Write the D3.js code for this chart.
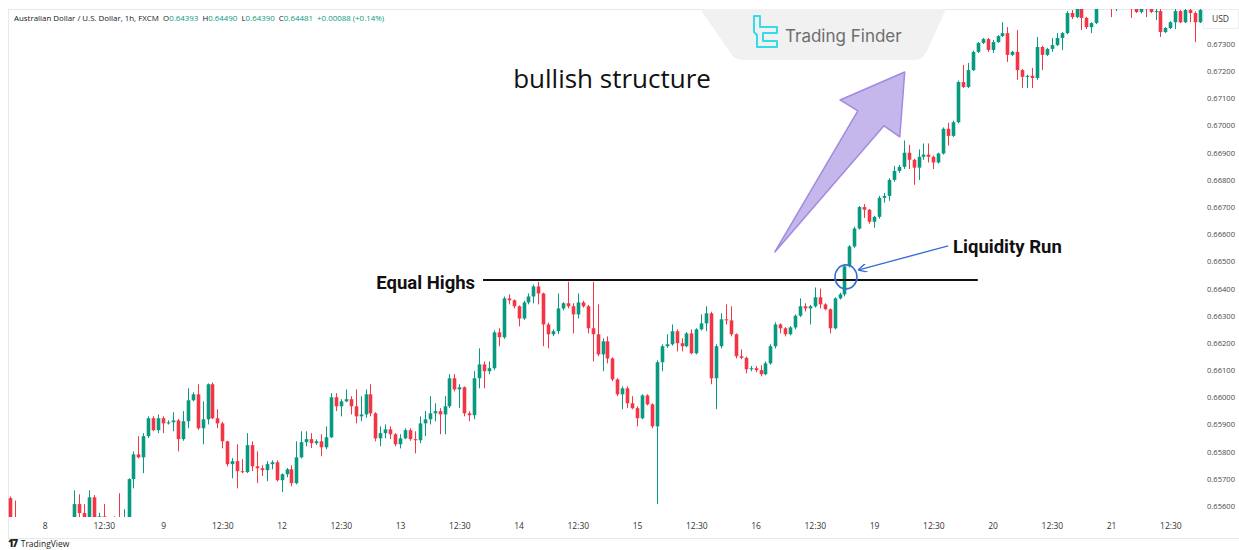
<!DOCTYPE html>
<html>
<head>
<meta charset="utf-8">
<script src="https://cdn.jsdelivr.net/npm/d3@7"></script>
<style>
  body { margin: 0; background: #fff; }
  svg { display: block; }
</style>
</head>
<body>
<div id="wrapper"></div>
<script>
// AUD/USD 1h candles (open = previous close)
const firstOpen = 0.65629;
const closes = [
  0.6555, 0.6554, 0.6552, 0.6549, 0.6547, 0.6545, 0.6548, 0.6546, 0.6544, 0.6547,
  0.6549, 0.6548, 0.6550, 0.65607, 0.65574, 0.6555, 0.65632, 0.6554, 0.65562, 0.65558,
  0.6554, 0.6553, 0.65528, 0.65553, 0.65699, 0.6579, 0.65779, 0.65857, 0.65923, 0.65879,
  0.65923, 0.65904, 0.65908, 0.65915, 0.65846, 0.65912, 0.65989, 0.66011, 0.65886, 0.65919,
  0.66048, 0.65923, 0.65904, 0.65838, 0.65754, 0.65765, 0.65728, 0.65725, 0.65824, 0.65746,
  0.65739, 0.65732, 0.65754, 0.65761, 0.65695, 0.65717, 0.65735, 0.65684, 0.65779, 0.65835,
  0.65846, 0.65831, 0.65838, 0.65816, 0.65853, 0.66000, 0.65967, 0.65985, 0.65993, 0.65967,
  0.6593, 0.65937, 0.66011, 0.65941, 0.65849, 0.65868, 0.65882, 0.65864, 0.65827, 0.65849,
  0.65879, 0.65846, 0.65842, 0.65904, 0.65919, 0.65941, 0.65949, 0.65937, 0.65967, 0.6607,
  0.66029, 0.66037, 0.65941, 0.65934, 0.6607, 0.66121, 0.66096, 0.66107, 0.66239, 0.66221,
  0.66364, 0.66357, 0.66335, 0.6629, 0.66349, 0.66371, 0.66408, 0.66382, 0.66268, 0.66232,
  0.66243, 0.66327, 0.66346, 0.66335, 0.66305, 0.66349, 0.66335, 0.66254, 0.66232, 0.66158,
  0.66206, 0.66143, 0.66066, 0.66011, 0.66033, 0.65978, 0.6596, 0.65923, 0.66007, 0.65974,
  0.65893, 0.66129, 0.66188, 0.66195, 0.66243, 0.66199, 0.66188, 0.66235, 0.66162, 0.6625,
  0.66272, 0.66309, 0.6607, 0.66188, 0.66287, 0.66283, 0.66232, 0.66151, 0.66145, 0.66103,
  0.66107, 0.661, 0.66085, 0.66125, 0.66188, 0.66268, 0.66254, 0.66232, 0.66257, 0.663,
  0.66335, 0.66327, 0.66335, 0.66368, 0.66342, 0.66324, 0.66254, 0.66364, 0.66379, 0.66482,
  0.66555, 0.66621, 0.667, 0.6669, 0.66646, 0.66664, 0.66734, 0.66741, 0.668, 0.66833,
  0.66848, 0.669, 0.66874, 0.66845, 0.66885, 0.66893, 0.66885, 0.66864, 0.66897, 0.66988,
  0.66962, 0.67012, 0.6716, 0.67142, 0.67204, 0.67271, 0.67304, 0.67318, 0.67278, 0.67307,
  0.67329, 0.6734, 0.6726, 0.67271, 0.67204, 0.67179, 0.67183, 0.67175, 0.67289, 0.6726,
  0.67282, 0.67296, 0.67322, 0.6734, 0.67414, 0.67399, 0.67443, 0.67396, 0.67362, 0.67377,
  0.67451, 0.67472, 0.67458, 0.67445, 0.67455, 0.6747, 0.6746, 0.67448, 0.67418, 0.67432,
  0.6743, 0.67418, 0.67421, 0.67344, 0.67359, 0.6738, 0.67421, 0.6738, 0.67425, 0.67414,
  0.6738, 0.67425
];
const highs = [
  0.65635, 0.6562, 0.6555, 0.6553, 0.6551, 0.6549, 0.6550, 0.6550, 0.6548, 0.6549,
  0.6552, 0.6551, 0.6553, 0.65658, 0.65643, 0.65607, 0.65658, 0.6564, 0.65575, 0.65607,
  0.6555, 0.65562, 0.65647, 0.65588, 0.65702, 0.65801, 0.65857, 0.65868, 0.6593, 0.6593,
  0.65937, 0.6593, 0.65915, 0.65945, 0.6592, 0.65949, 0.66033, 0.66018, 0.66048, 0.65985,
  0.66051, 0.66055, 0.65956, 0.6591, 0.6584, 0.65776, 0.65827, 0.65772, 0.65868, 0.65838,
  0.65801, 0.6575, 0.65765, 0.65768, 0.65768, 0.6572, 0.6574, 0.6575, 0.65838, 0.65875,
  0.65875, 0.65868, 0.65845, 0.65864, 0.65893, 0.66015, 0.66015, 0.65993, 0.66029, 0.66004,
  0.66029, 0.66004, 0.66029, 0.66048, 0.65945, 0.65893, 0.659, 0.65893, 0.65868, 0.65864,
  0.65886, 0.65886, 0.65875, 0.6593, 0.65949, 0.66004, 0.65978, 0.6596, 0.66004, 0.66085,
  0.66085, 0.66048, 0.6604, 0.65949, 0.66096, 0.6618, 0.66132, 0.66132, 0.66246, 0.66254,
  0.66371, 0.66379, 0.6636, 0.66338, 0.66355, 0.66382, 0.66415, 0.66425, 0.66385, 0.66275,
  0.6625, 0.66382, 0.6635, 0.66425, 0.66346, 0.66382, 0.66355, 0.6634, 0.66425, 0.66342,
  0.66217, 0.66224, 0.66147, 0.6607, 0.6604, 0.6604, 0.66004, 0.65967, 0.66011, 0.66011,
  0.65978, 0.66136, 0.66195, 0.66232, 0.66268, 0.6625, 0.66217, 0.6624, 0.6625, 0.66254,
  0.66305, 0.66335, 0.66315, 0.66195, 0.66309, 0.66342, 0.66335, 0.66235, 0.66176, 0.6615,
  0.66115, 0.66115, 0.66118, 0.66132, 0.66195, 0.66276, 0.66272, 0.66258, 0.66262, 0.66305,
  0.66364, 0.66346, 0.6634, 0.66404, 0.664, 0.66346, 0.66327, 0.66368, 0.66385, 0.66489,
  0.6656, 0.66628, 0.66704, 0.66711, 0.66693, 0.66668, 0.66741, 0.66752, 0.66806, 0.66851,
  0.66855, 0.66945, 0.66929, 0.66878, 0.66912, 0.66934, 0.66934, 0.6689, 0.669, 0.66993,
  0.6701, 0.67018, 0.67165, 0.67223, 0.6723, 0.67275, 0.67307, 0.67322, 0.67322, 0.67315,
  0.67333, 0.6738, 0.67362, 0.67275, 0.67351, 0.67208, 0.67187, 0.67212, 0.67326, 0.67293,
  0.67286, 0.67322, 0.6734, 0.67344, 0.67421, 0.67425, 0.67454, 0.6745, 0.674, 0.6738,
  0.67462, 0.6749, 0.6748, 0.6747, 0.6747, 0.6749, 0.6748, 0.67468, 0.6745, 0.6745,
  0.67448, 0.67436, 0.6743, 0.6744, 0.67362, 0.67384, 0.67432, 0.67425, 0.6744, 0.6744,
  0.6742, 0.6744
];
const lows = [
  0.6553, 0.6552, 0.6550, 0.6547, 0.6545, 0.6543, 0.6543, 0.6544, 0.6542, 0.6542,
  0.6545, 0.6546, 0.6546, 0.6548, 0.6553, 0.6552, 0.6553, 0.6552, 0.6553, 0.6553,
  0.6551, 0.6550, 0.6551, 0.6552, 0.6553, 0.65665, 0.65775, 0.65721, 0.6585, 0.65875,
  0.65868, 0.65868, 0.659, 0.65875, 0.65801, 0.6584, 0.65886, 0.65985, 0.6588, 0.65827,
  0.659, 0.6592, 0.65886, 0.65812, 0.65746, 0.65702, 0.65665, 0.6572, 0.65721, 0.65728,
  0.65684, 0.6571, 0.65691, 0.65735, 0.6569, 0.65651, 0.65706, 0.65673, 0.6568, 0.65775,
  0.6582, 0.65813, 0.65825, 0.65783, 0.65809, 0.6585, 0.65949, 0.6593, 0.65982, 0.65937,
  0.65904, 0.65912, 0.65925, 0.6593, 0.65838, 0.6582, 0.65849, 0.65846, 0.6582, 0.65812,
  0.65846, 0.6584, 0.65794, 0.65831, 0.65857, 0.659, 0.65912, 0.65864, 0.65864, 0.6596,
  0.66022, 0.6596, 0.6593, 0.65912, 0.65919, 0.66033, 0.66033, 0.66085, 0.661, 0.66188,
  0.66215, 0.66342, 0.66327, 0.66261, 0.66285, 0.66342, 0.66346, 0.66342, 0.66188, 0.6618,
  0.66225, 0.66232, 0.6632, 0.66327, 0.66235, 0.6629, 0.6633, 0.66235, 0.66132, 0.66151,
  0.66096, 0.66125, 0.66059, 0.66004, 0.65956, 0.6596, 0.65956, 0.65893, 0.6592, 0.6597,
  0.65886, 0.65607, 0.66096, 0.66182, 0.6619, 0.66169, 0.66169, 0.66185, 0.66158, 0.66158,
  0.66246, 0.66243, 0.66048, 0.65956, 0.6618, 0.66268, 0.66224, 0.66143, 0.6614, 0.66088,
  0.66096, 0.66092, 0.66077, 0.66081, 0.6612, 0.6618, 0.66235, 0.66224, 0.66228, 0.6625,
  0.66295, 0.66316, 0.66268, 0.6633, 0.66327, 0.6632, 0.66235, 0.6625, 0.6636, 0.66371,
  0.66478, 0.6655, 0.66617, 0.6666, 0.66639, 0.66624, 0.66657, 0.66716, 0.66723, 0.66793,
  0.66826, 0.6684, 0.6684, 0.66782, 0.668, 0.66874, 0.66864, 0.6684, 0.6686, 0.66893,
  0.66926, 0.66958, 0.67008, 0.67138, 0.67138, 0.672, 0.67267, 0.673, 0.67271, 0.67267,
  0.67304, 0.67326, 0.67234, 0.67256, 0.67168, 0.67138, 0.67138, 0.67138, 0.67168, 0.67204,
  0.67256, 0.67271, 0.67293, 0.67278, 0.67336, 0.67392, 0.67395, 0.67351, 0.67355, 0.6734,
  0.67373, 0.6744, 0.67432, 0.67399, 0.67421, 0.6744, 0.67435, 0.67396, 0.67414, 0.67412,
  0.67399, 0.67414, 0.67388, 0.67326, 0.6734, 0.67355, 0.67355, 0.67377, 0.67377, 0.6738,
  0.67307, 0.67377
];

// time axis: candle index of each label
const tickIdx = [7, 19, 31, 43, 55, 67, 79, 91, 103, 115, 127, 139, 151, 163, 175, 187, 199, 211, 223, 235];
const tickLabels = ["8", "12:30", "9", "12:30", "12", "12:30", "13", "12:30", "14", "12:30",
                    "15", "12:30", "16", "12:30", "19", "12:30", "20", "12:30", "21", "12:30"];
const priceTicks = [0.656, 0.657, 0.658, 0.659, 0.660, 0.661, 0.662, 0.663, 0.664,
                    0.665, 0.666, 0.667, 0.668, 0.669, 0.670, 0.671, 0.672, 0.673];

// annotations, in (candle index, price)
const equalHighs = { from: 95.8, to: 196.0, price: 0.66432 };
const bullArrow = [[154.9, 0.66535], [171.7, 0.67054], [168.1, 0.67094], [181.2, 0.67197], [180.2, 0.66958], [177.0, 0.66999]];
const runCircle = { i: 169.3, price: 0.66443 };
const runArrow = { from: [190.0, 0.66557], to: [171.9, 0.66469] };

const width = 1239;
const height = 550;
const plot = { left: 8, right: 1203, top: 9, bottom: 517 };

const candles = closes.map((c, i) => {
  const o = i === 0 ? firstOpen : closes[i - 1];
  return { i, o, c, h: Math.max(highs[i], o, c), l: Math.min(lows[i], o, c) };
});

const x = d3.scaleLinear().domain([0, closes.length - 1]).range([10, 1200]);
const y = d3.scaleLinear().domain([0.656, 0.673]).range([506, 44]);

const svg = d3.select("#wrapper").append("svg")
  .attr("width", width).attr("height", height)
  .style("font-family", "'Open Sans', sans-serif");

svg.append("defs").append("clipPath").attr("id", "plotclip")
  .append("rect")
  .attr("x", plot.left).attr("y", plot.top)
  .attr("width", plot.right - plot.left).attr("height", plot.bottom - plot.top);

// frame
svg.append("rect")
  .attr("x", plot.left + 0.5).attr("y", plot.top + 0.5)
  .attr("width", width - plot.left).attr("height", 538 - plot.top)
  .attr("fill", "none").attr("stroke", "#e6e8ee");

// candles
const up = "#089981", down = "#f23645";
const g = svg.append("g").attr("clip-path", "url(#plotclip)");
const bw = 3.6;

g.selectAll("line.wick").data(candles).join("line")
  .attr("class", "wick")
  .attr("x1", d => Math.round(x(d.i)) + 0.5).attr("x2", d => Math.round(x(d.i)) + 0.5)
  .attr("y1", d => y(d.h)).attr("y2", d => y(d.l))
  .attr("stroke", d => d.c >= d.o ? up : down)
  .attr("stroke-width", 1);

g.selectAll("rect.body").data(candles).join("rect")
  .attr("class", "body")
  .attr("x", d => Math.round(x(d.i)) + 0.5 - bw / 2)
  .attr("y", d => y(Math.max(d.o, d.c)))
  .attr("width", bw)
  .attr("height", d => Math.max(1, Math.abs(y(d.o) - y(d.c))))
  .attr("fill", d => d.c >= d.o ? up : down);

// right price axis
const yAxis = svg.append("g")
  .attr("transform", `translate(${plot.right + 3},0)`)
  .call(d3.axisRight(y).tickValues(priceTicks).tickFormat(d3.format(".5f")).tickSize(0));
yAxis.select(".domain").remove();
yAxis.selectAll("text")
  .attr("x", 1)
  .attr("fill", "#4a4a4a")
  .style("font-size", "7.6px")
  .style("font-family", "'Open Sans', sans-serif");

svg.append("rect")
  .attr("x", plot.right + 0.5).attr("y", plot.top + 0.5)
  .attr("width", width - plot.right - 1).attr("height", 19)
  .attr("fill", "#fff").attr("stroke", "#eceef2");
svg.append("text")
  .attr("x", plot.right + 9).attr("y", 22)
  .attr("fill", "#333").style("font-size", "8.5px")
  .text("USD");

// bottom time axis
const xAxis = svg.append("g")
  .attr("transform", `translate(0,${plot.bottom + 3})`)
  .call(d3.axisBottom(x).tickValues(tickIdx)
    .tickFormat((d, k) => tickLabels[k]).tickSize(0));
xAxis.select(".domain").remove();
xAxis.selectAll("text")
  .attr("dy", "0.71em")
  .attr("fill", "#333")
  .style("font-size", "8.5px")
  .style("font-family", "'Open Sans', sans-serif");

// header legend
const legend = svg.append("text")
  .attr("x", 14).attr("y", 21)
  .style("font-size", "7.9px")
  .attr("fill", "#131722");
const legendParts = [
  ["Australian Dollar / U.S. Dollar, 1h, FXCM  ", "#131722"],
  ["O", "#131722"], ["0.64393  ", up],
  ["H", "#131722"], ["0.64490  ", up],
  ["L", "#131722"], ["0.64390  ", up],
  ["C", "#131722"], ["0.64481  ", up],
  ["+0.00088 (+0.14%)", up]
];
legend.selectAll("tspan").data(legendParts).join("tspan")
  .attr("fill", d => d[1])
  .attr("xml:space", "preserve")
  .style("white-space", "pre")
  .text(d => d[0]);

// Equal highs line
svg.append("line")
  .attr("x1", x(equalHighs.from)).attr("x2", x(equalHighs.to))
  .attr("y1", y(equalHighs.price)).attr("y2", y(equalHighs.price))
  .attr("stroke", "#111").attr("stroke-width", 2);
svg.append("text")
  .attr("x", x(94.2)).attr("y", y(0.66399))
  .attr("text-anchor", "end")
  .style("font-family", "Roboto, sans-serif").style("font-weight", 700).style("font-size", "18.5px")
  .attr("fill", "#111")
  .text("Equal Highs");

// bullish arrow
svg.append("path")
  .attr("d", d3.line()(bullArrow.map(p => [x(p[0]), y(p[1])])) + "Z")
  .attr("fill", "#bba9e8").attr("fill-opacity", 0.85)
  .attr("stroke", "#a18be0").attr("stroke-width", 1.5)
  .attr("stroke-linejoin", "round");

svg.append("text")
  .attr("x", x(101.9)).attr("y", y(0.67138))
  .style("font-family", "'Open Sans', sans-serif").style("font-size", "26px")
  .attr("fill", "#111")
  .text("bullish structure");

// liquidity run
svg.append("ellipse")
  .attr("cx", x(runCircle.i)).attr("cy", y(runCircle.price))
  .attr("rx", 11).attr("ry", 12)
  .attr("fill", "none").attr("stroke", "#3a6fd8").attr("stroke-width", 1.6);

svg.append("defs").append("marker")
  .attr("id", "head").attr("viewBox", "0 0 10 10")
  .attr("refX", 9).attr("refY", 5)
  .attr("markerWidth", 9).attr("markerHeight", 9)
  .attr("markerUnits", "userSpaceOnUse")
  .attr("orient", "auto")
  .append("path").attr("d", "M0,0 L10,5 L0,10")
  .attr("fill", "none").attr("stroke", "#3a6fd8").attr("stroke-width", 1.6);

svg.append("line")
  .attr("x1", x(runArrow.from[0])).attr("y1", y(runArrow.from[1]))
  .attr("x2", x(runArrow.to[0])).attr("y2", y(runArrow.to[1]))
  .attr("stroke", "#3a6fd8").attr("stroke-width", 1.4)
  .attr("marker-end", "url(#head)");

svg.append("text")
  .attr("x", x(191.0)).attr("y", y(0.66532))
  .style("font-family", "Roboto, sans-serif").style("font-weight", 700).style("font-size", "18.5px")
  .attr("fill", "#111")
  .text("Liquidity Run");

// Trading Finder watermark
const wm = svg.append("g");
wm.append("path")
  .attr("d", "M700,9 L946,9 L927,51 Q923,60 913,60 L743,60 Q734,60 730,52 Z")
  .attr("fill", "#f1f1f2");
wm.append("path")
  .attr("d", "M754,16 L760,16 L760,27 L777,27 L777,33 L763,33 L763,41 L777,41 L777,47 L757,47 L757,35 L754,32 Z")
  .attr("fill", "none").attr("stroke", "#35dbe8").attr("stroke-width", 2)
  .attr("stroke-linejoin", "round");
wm.append("text")
  .attr("x", 785).attr("y", 42)
  .style("font-family", "Inter, sans-serif").style("font-size", "17px")
  .attr("fill", "#6e6e70")
  .text("Trading Finder");

// TradingView footer
svg.append("text")
  .attr("x", 8).attr("y", 546.5)
  .style("font-family", "'Open Sans', sans-serif").style("font-size", "8.5px")
  .attr("fill", "#222")
  .call(t => {
    t.append("tspan").style("font-weight", 800).style("font-size", "10px").style("letter-spacing", "-1.5px").text("17");
    t.append("tspan").attr("dx", 4).text("TradingView");
  });
</script>
</body>
</html>
